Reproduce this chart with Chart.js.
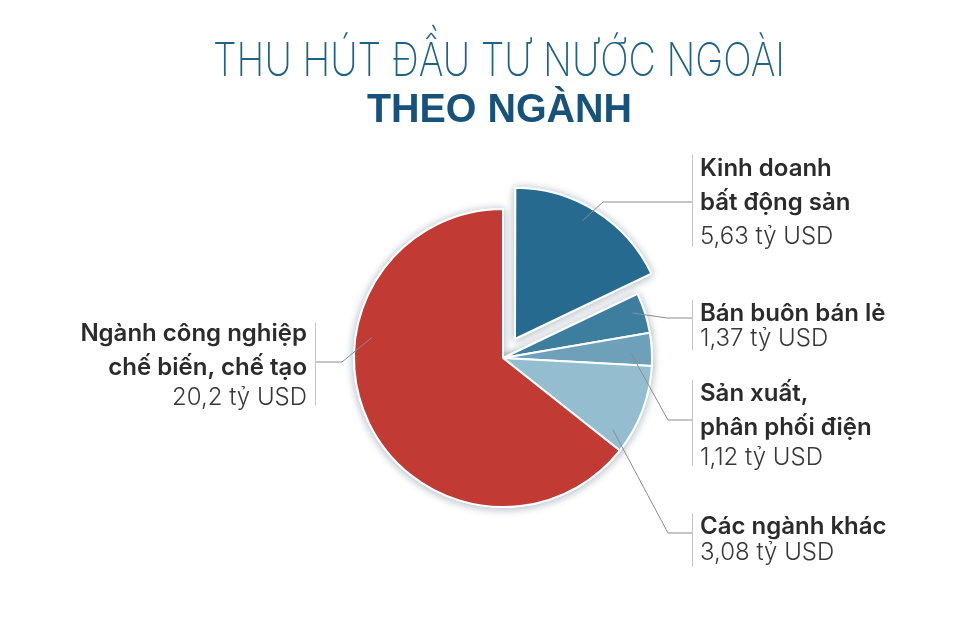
<!DOCTYPE html>
<html>
<head>
<meta charset="utf-8">
<script src="https://cdn.jsdelivr.net/npm/chart.js@4/dist/chart.umd.min.js"></script>
<style>
html,body{margin:0;padding:0;background:#fff;}
#wrap{width:965px;height:617px;position:relative;}
</style>
</head>
<body>
<div id="wrap"><canvas id="c" width="965" height="617"></canvas></div>
<script>
// ---- Data ----
const titleLines = ['THU HÚT ĐẦU TƯ NƯỚC NGOÀI', 'THEO NGÀNH'];
const categories = ['Kinh doanh bất động sản', 'Bán buôn bán lẻ', 'Sản xuất, phân phối điện', 'Các ngành khác', 'Ngành công nghiệp chế biến, chế tạo'];
const nameLines = [['Kinh doanh', 'bất động sản'], ['Bán buôn bán lẻ'], ['Sản xuất,', 'phân phối điện'], ['Các ngành khác'], ['Ngành công nghiệp', 'chế biến, chế tạo']];
const values = [5.63, 1.37, 1.12, 3.08, 20.2];
const valueLabels = ['5,63 tỷ USD', '1,37 tỷ USD', '1,12 tỷ USD', '3,08 tỷ USD', '20,2 tỷ USD'];
const colors = ['#276a8f', '#3d7e9f', '#6ea0ba', '#95bdd0', '#c13a34'];

// ---- Label layout (styling) ----
const labelLayout = [
  {side: 'right', frac: 0.46, k: 0.9, elbow: [603, 202], lineY: 202, barX: 692, barY: [155, 247], textX: 700, ys: [169, 203, 237]},
  {side: 'right', frac: 0.40, k: 0.92, elbow: [667, 318], lineY: 318, barX: 692, barY: [300, 350], textX: 700, ys: [314, 339]},
  {side: 'right', frac: 0.60, k: 0.86, elbow: [668, 420], lineY: 420, barX: 692, barY: [380, 466], textX: 700, ys: [394, 428, 458]},
  {side: 'right', frac: 0.85, k: 0.88, elbow: [668, 533], lineY: 533, barX: 692, barY: [513, 567], textX: 700, ys: [527, 553]},
  {side: 'left', frac: 0.65, k: 0.89, elbow: [342, 362], lineY: 362, barX: 315, barY: [323, 405], textX: 307, ys: [334, 368, 398]}
];

const shadowPlugin = {
  id: 'shadowPass',
  beforeDatasetsDraw(chart) {
    const ctx = chart.ctx;
    const meta = chart.getDatasetMeta(0);
    ctx.save();
    ctx.shadowColor = 'rgba(30,60,90,0.35)';
    ctx.shadowBlur = 9;
    ctx.shadowOffsetX = 0;
    ctx.shadowOffsetY = 1;
    meta.data.forEach(a => a.draw(ctx));
    ctx.restore();
  }
};

const textPlugin = {
  id: 'texts',
  afterDraw(chart) {
    const ctx = chart.ctx;
    ctx.save();
    // Title
    ctx.textBaseline = 'alphabetic';
    ctx.textAlign = 'left';
    ctx.fillStyle = '#1f6288';
    ctx.font = '200 46px Inter';
    let w = ctx.measureText(titleLines[0]).width;
    let target = 572;
    ctx.save();
    ctx.translate(213, 76);
    ctx.scale(target / w, 1);
    ctx.fillText(titleLines[0], 0, 0);
    ctx.restore();
    ctx.fillStyle = '#17527a';
    ctx.font = 'bold 41px "Liberation Sans"';
    w = ctx.measureText(titleLines[1]).width;
    target = 265;
    ctx.save();
    ctx.translate(367, 122);
    ctx.scale(target / w, 1);
    ctx.fillText(titleLines[1], 0, 0);
    ctx.restore();

    // Labels
    const meta = chart.getDatasetMeta(0);
    meta.data.forEach((arc, i) => {
      const L = labelLayout[i];
      const p = arc.getProps(['x', 'y', 'startAngle', 'endAngle', 'outerRadius', 'circumference'], true);
      const half = (p.startAngle + p.endAngle) / 2;
      const off = (arc.options.offset || 0) / 4;
      const fix = 1 - Math.sin(Math.min(Math.PI, p.circumference || 0));
      const t = off * (1 + fix);
      const cx = p.x + Math.cos(half) * t;
      const cy = p.y + Math.sin(half) * t;
      const a = p.startAngle + L.frac * (p.endAngle - p.startAngle);
      const ax = cx + Math.cos(a) * p.outerRadius * L.k;
      const ay = cy + Math.sin(a) * p.outerRadius * L.k;
      ctx.strokeStyle = '#8c8c8c';
      ctx.lineWidth = 1;
      ctx.beginPath();
      ctx.moveTo(ax, ay);
      ctx.lineTo(L.elbow[0], L.elbow[1]);
      ctx.lineTo(L.barX, L.lineY);
      ctx.stroke();
      ctx.strokeStyle = '#c4c4c4';
      ctx.beginPath();
      ctx.moveTo(L.barX + 0.5, L.barY[0]);
      ctx.lineTo(L.barX + 0.5, L.barY[1]);
      ctx.stroke();
      ctx.textAlign = L.side === 'right' ? 'left' : 'right';
      ctx.textBaseline = 'middle';
      const lines = nameLines[i];
      lines.forEach((ln, j) => {
        ctx.font = '600 24px Inter';
        ctx.fillStyle = '#2b2b2b';
        ctx.fillText(ln, L.textX, L.ys[j]);
      });
      ctx.font = '300 24px Inter';
      ctx.fillStyle = '#383838';
      ctx.fillText(valueLabels[i], L.textX, L.ys[lines.length]);
    });
    ctx.restore();
  }
};

new Chart(document.getElementById('c'), {
  type: 'pie',
  data: {
    labels: categories,
    datasets: [{
      data: values,
      backgroundColor: colors,
      borderColor: '#ffffff',
      borderWidth: 2,
      offset: [90, 0, 0, 0, 0]
    }]
  },
  options: {
    responsive: false,
    animation: false,
    radius: 149,
    layout: {padding: {left: 241, right: 200, top: 199, bottom: 100}},
    plugins: {legend: {display: false}, tooltip: {enabled: false}, title: {display: false}}
  },
  plugins: [shadowPlugin, textPlugin]
});
</script>
</body>
</html>
